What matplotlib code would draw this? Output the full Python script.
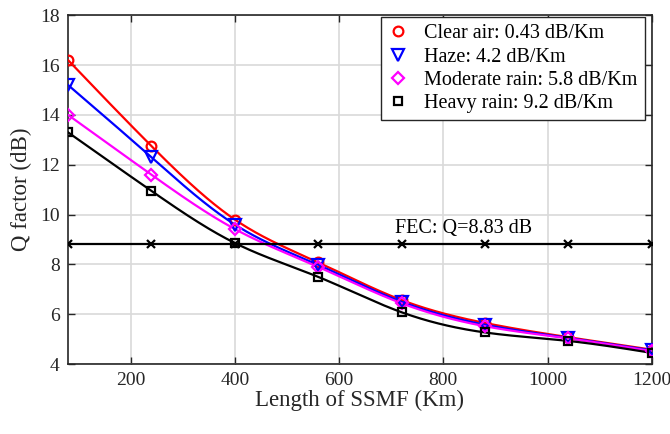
import numpy as np
import matplotlib
matplotlib.use("Agg")
import matplotlib.pyplot as plt

plt.rcParams['font.family'] = ['Liberation Serif', 'DejaVu Serif']
plt.rcParams['mathtext.fontset'] = 'stix'

length_km = [80, 240, 400, 560, 720, 880, 1040, 1200]
clear_air = [16.2, 12.75, 9.8, 8.08, 6.57, 5.65, 5.08, 4.58]
haze = [15.2, 12.3, 9.6, 7.98, 6.5, 5.58, 5.05, 4.55]
moderate_rain = [14.0, 11.6, 9.42, 7.9, 6.44, 5.52, 5.03, 4.52]
heavy_rain = [13.3, 10.95, 8.86, 7.5, 6.08, 5.27, 4.93, 4.45]
fec_q = 8.83

labels = ['Clear air: 0.43 dB/Km', 'Haze: 4.2 dB/Km',
          'Moderate rain: 5.8 dB/Km', 'Heavy rain: 9.2 dB/Km']
series = [clear_air, haze, moderate_rain, heavy_rain]
colors = ['#ff0000', '#0000ff', '#ff00ff', '#000000']
markers = ['o', 'v', 'D', 's']
msizes = [7, 8, 6, 6]


def natural_spline(x, y, xs):
    x = np.asarray(x, float); y = np.asarray(y, float)
    n = len(x)
    h = np.diff(x)
    A = np.zeros((n, n)); b = np.zeros(n)
    A[0, 0] = 1; A[-1, -1] = 1
    for i in range(1, n - 1):
        A[i, i - 1] = h[i - 1]
        A[i, i] = 2 * (h[i - 1] + h[i])
        A[i, i + 1] = h[i]
        b[i] = 3 * ((y[i + 1] - y[i]) / h[i] - (y[i] - y[i - 1]) / h[i - 1])
    c = np.linalg.solve(A, b)
    out = np.empty_like(xs)
    for k, xv in enumerate(xs):
        i = min(np.searchsorted(x, xv, side='right') - 1, n - 2)
        i = max(i, 0)
        dx = xv - x[i]
        bi = (y[i + 1] - y[i]) / h[i] - h[i] * (2 * c[i] + c[i + 1]) / 3
        di = (c[i + 1] - c[i]) / (3 * h[i])
        out[k] = y[i] + bi * dx + c[i] * dx ** 2 + di * dx ** 3
    return out


fig = plt.figure(figsize=(6.7, 4.34), dpi=100)
ax = fig.add_axes([0.1015, 0.161, 0.8715, 0.804])

xs = np.linspace(length_km[0], length_km[-1], 400)
for ys, c, m, ms, lab in zip(series, colors, markers, msizes, labels):
    ax.plot(xs, natural_spline(length_km, ys, xs), color=c, lw=1.6, zorder=3)
    ax.plot(length_km, ys, linestyle='none', marker=m, mfc='none', mec=c,
            mew=1.6, ms=ms, zorder=4, label=lab)

ax.plot(length_km, [fec_q] * len(length_km), color='black', lw=1.6,
        marker='x', ms=6, mew=1.6, zorder=3)
ax.text(838, fec_q + 0.25, 'FEC: Q=8.83 dB', fontsize=14.5, ha='center',
        va='bottom')

ax.set_xlim(80, 1200)
ax.set_ylim(4, 18)
ax.set_xticks([200, 400, 600, 800, 1000, 1200])
ax.set_yticks(range(4, 19, 2))
ax.grid(True, color='#d9d9d9', lw=1.2)
ax.set_axisbelow(True)
ax.tick_params(direction='in', top=True, right=True, length=5, width=1,
               labelsize=14, colors='#262626', pad=6)
for s in ax.spines.values():
    s.set_linewidth(1.2)
    s.set_color('#262626')
ax.set_xlabel('Length of SSMF (Km)', fontsize=16.5, color='#262626', labelpad=0)
ax.set_ylabel('Q factor (dB)', fontsize=16.5, color='#262626', labelpad=6)

leg = ax.legend(loc='upper right', fontsize=14.5, frameon=True, fancybox=False,
                edgecolor='#262626', framealpha=1, handlelength=1.0,
                handletextpad=0.8, borderpad=0.35, labelspacing=0.2,
                borderaxespad=0, bbox_to_anchor=(0.988, 0.994))
leg.get_frame().set_linewidth(1.0)

fig.savefig('out.png', dpi=100)
